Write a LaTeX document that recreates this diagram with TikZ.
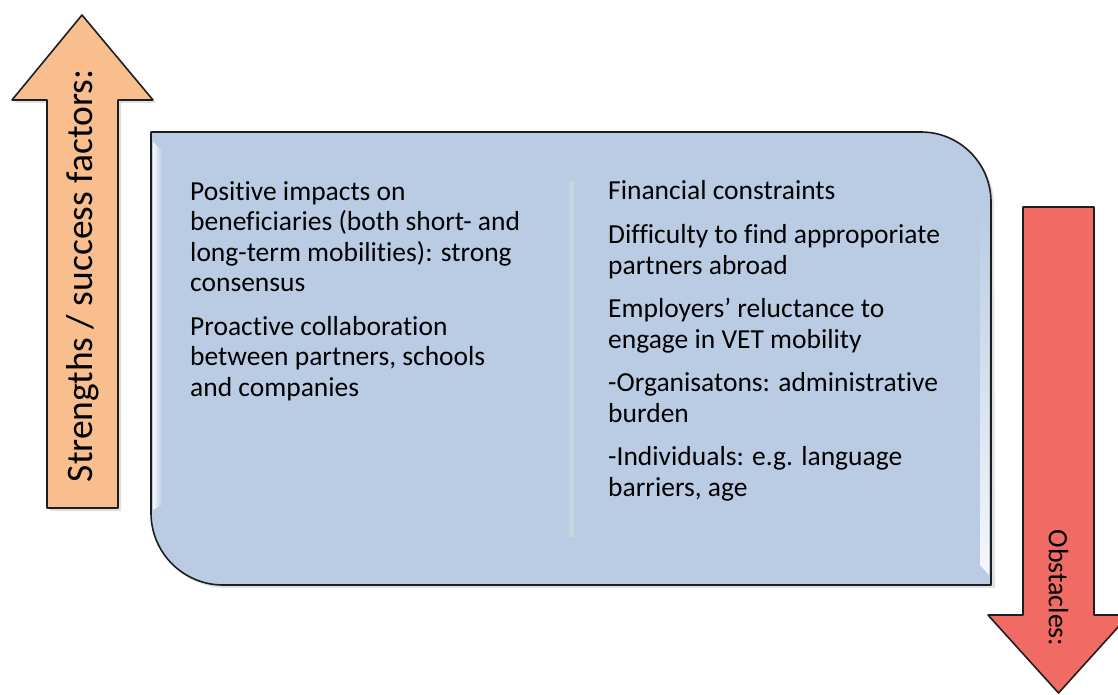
\documentclass[tikz,border=0pt]{standalone}
\usepackage{fontspec}
\setmainfont{Carlito}[Ligatures={NoCommon}]
\definecolor{boxfill}{HTML}{B9CCE4}
\definecolor{upfill}{HTML}{F8BE8E}
\definecolor{downfill}{HTML}{EF6B63}
\definecolor{outline}{HTML}{1E1E1E}
\definecolor{divider}{HTML}{BFD9DF}
\tikzset{
  shape outline/.style={draw=outline, line width=1.6pt, line join=round},
  % multi-line text is placed by the baseline of its last line
  body text/.style={anchor=base west, align=left, inner sep=0pt,
    font=\fontsize{27.5}{30.5}\selectfont, text=black},
  label up/.style={rotate=90, inner sep=0pt, font=\fontsize{37.5}{40}\selectfont},
  label down/.style={rotate=-90, inner sep=0pt, font=\fontsize{28}{32}\selectfont},
  bevel/.style={left color=white!85!boxfill, right color=boxfill, draw=none},
}
\begin{document}
\begin{tikzpicture}[x=1pt, y=-1pt]
\useasboundingbox (0,0) rectangle (1118,695);

% upward arrow: strengths
\fill[black, opacity=0.12] (50,511) -- (50,103) -- (15,103) -- (85,18) -- (156,103) -- (121,103) -- (121,511) -- cycle;
\path[shape outline, fill=upfill]
  (47,508) -- (47,100) -- (12,100) -- (82,15) -- (153,100) -- (118,100) -- (118,508) -- cycle;
\node[label up] (strengths) at (82.5,276) {Strengths / success factors:};

% central panel with two rounded corners
\fill[black, opacity=0.12] (154,135) -- (924,135) arc[start angle=-90, end angle=0, radius=70] -- (995,588) -- (226,588) arc[start angle=90, end angle=180, radius=72] -- cycle;
\path[shape outline, fill=boxfill]
  (151,132) -- (921,132) arc[start angle=-90, end angle=0, radius=70]
  -- (991,585) -- (223,585) arc[start angle=90, end angle=180, radius=72] -- cycle;
% soft bevel highlights along the side edges
\shade[bevel] (153,142) -- (162,150) -- (162,505) -- (153,510) -- cycle;
\shade[bevel, shading angle=180] (989,205) -- (980,212) -- (980,565) -- (989,575) -- cycle;

% column divider
\fill[divider] (568.5,181) rectangle (573.5,537);

% left column
\node[body text] (pos) at (190,291.5) {Positive impacts on\\beneficiaries (both short- and\\long-term mobilities): strong\\consensus};
\node[body text] (pro) at (190,396) {Proactive collaboration\\between partners, schools\\and companies};

% right column
\node[body text] (fin) at (608,200) {Financial constraints};
\node[body text] (dif) at (608,274) {Difficulty to find approporiate\\partners abroad};
\node[body text] (emp) at (608,348) {Employers’ reluctance to\\engage in VET mobility};
\node[body text] (org) at (608,422) {-Organisatons: administrative\\burden};
\node[body text] (ind) at (608,496) {-Individuals: e.g. language\\barriers, age};

% downward arrow: obstacles
\path[shape outline, fill=downfill]
  (1023,207) -- (1094,207) -- (1094,615) -- (1129,615) -- (1058.5,693) -- (988,615) -- (1023,615) -- cycle;
\node[label down] (obstacles) at (1058.5,588) {Obstacles:};
\end{tikzpicture}
\end{document}
